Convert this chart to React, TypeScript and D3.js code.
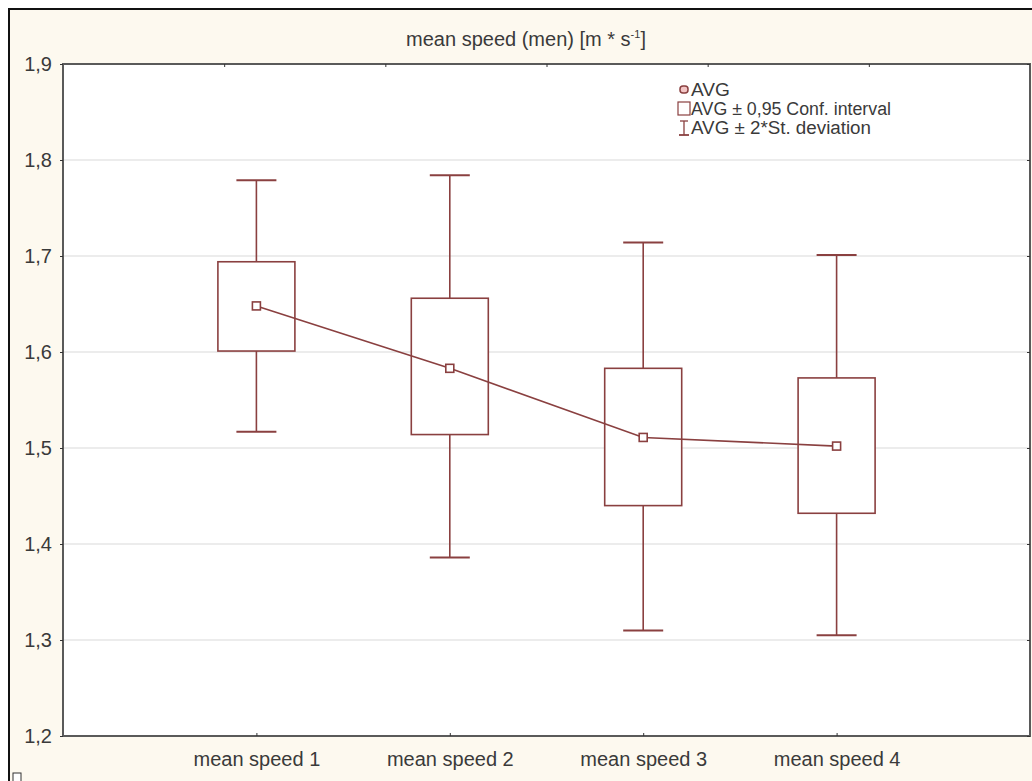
import React, { useEffect, useRef } from "react";
import * as d3 from "d3";

const categories = ["mean speed 1", "mean speed 2", "mean speed 3", "mean speed 4"];
const avg = [1.648, 1.583, 1.511, 1.502];
const ciLow = [1.601, 1.514, 1.44, 1.432];
const ciHigh = [1.694, 1.656, 1.583, 1.573];
const sdLow = [1.517, 1.386, 1.31, 1.305];
const sdHigh = [1.779, 1.784, 1.714, 1.701];
const yTicks = [1.2, 1.3, 1.4, 1.5, 1.6, 1.7, 1.8, 1.9];
const legendItems = ["AVG", "AVG \u00b1 0,95 Conf. interval", "AVG \u00b1 2*St. deviation"];

const W = 1032;
const H = 781;
const RED = "#8a4040";
const FONT = "'Liberation Sans', Arial, sans-serif";

export default function App() {
  const ref = useRef<SVGSVGElement>(null);

  useEffect(() => {
    const svg = d3.select(ref.current);
    svg.selectAll("*").remove();

    const margin = { top: 64, right: 2, bottom: 45, left: 63 };
    const x0 = margin.left, x1 = W - margin.right;
    const y0 = margin.top, y1 = H - margin.bottom;

    const x = d3.scaleLinear().domain([0, categories.length + 1]).range([x0, x1]);
    const y = d3.scaleLinear().domain([1.2, 1.9]).range([y1, y0]);

    // outer frame
    svg.append("rect").attr("x", 0).attr("y", 0).attr("width", W).attr("height", H).attr("fill", "#ffffff");
    svg.append("rect").attr("x", 9).attr("y", 9).attr("width", W + 10).attr("height", H + 10)
      .attr("fill", "#fdf9ef").attr("stroke", "#111").attr("stroke-width", 2);

    // plot area
    svg.append("rect").attr("x", x0).attr("y", y0).attr("width", x1 - x0).attr("height", y1 - y0)
      .attr("fill", "#ffffff");

    // grid
    svg.append("g").selectAll("line")
      .data(yTicks.slice(1, -1))
      .join("line")
      .attr("x1", x0).attr("x2", x1)
      .attr("y1", d => y(d)).attr("y2", d => y(d))
      .attr("stroke", "#d9d9d9").attr("stroke-width", 1);

    svg.append("rect").attr("x", x0).attr("y", y0).attr("width", x1 - x0).attr("height", y1 - y0)
      .attr("fill", "none").attr("stroke", "#5a5a5a").attr("stroke-width", 2);

    // axes
    const left = svg.append("g").attr("transform", `translate(${x0},0)`)
      .call(d3.axisLeft(y).tickValues(yTicks).tickSize(3).tickFormat(d => d3.format(".1f")(d as number).replace(".", ",")));
    left.select(".domain").remove();
    left.selectAll("line").attr("stroke", "#333");
    left.selectAll("text").attr("font-size", 20).attr("font-family", FONT).attr("fill", "#3a3a3a").attr("x", -11);

    const right = svg.append("g").attr("transform", `translate(${x1},0)`)
      .call(d3.axisRight(y).tickValues(yTicks).tickSize(-3).tickFormat(() => ""));
    right.select(".domain").remove();
    right.selectAll("line").attr("stroke", "#333");

    const bottom = svg.append("g").attr("transform", `translate(0,${y1})`)
      .call(d3.axisBottom(x).tickValues(d3.range(1, categories.length + 1)).tickSize(-3)
        .tickFormat(d => categories[(d as number) - 1]));
    bottom.select(".domain").remove();
    bottom.selectAll("line").attr("stroke", "#333");
    bottom.selectAll("text").attr("font-size", 20).attr("font-family", FONT).attr("fill", "#3a3a3a").attr("y", 16);

    const xTop = d3.scaleLinear().domain([0, 6]).range([x0, x1]);
    const top = svg.append("g").attr("transform", `translate(0,${y0})`)
      .call(d3.axisTop(xTop).tickValues([1, 2, 3, 4, 5]).tickSize(-3).tickFormat(() => ""));
    top.select(".domain").remove();
    top.selectAll("line").attr("stroke", "#333");

    // title
    const title = svg.append("text").attr("x", 526).attr("y", 46)
      .attr("text-anchor", "middle").attr("font-family", FONT).attr("font-size", 20).attr("fill", "#3a3a3a");
    title.append("tspan").text("mean speed (men) [m * s");
    title.append("tspan").attr("font-size", 11).attr("dy", -8).text("-1");
    title.append("tspan").attr("dy", 8).text("]");

    const g = svg.append("g");
    const capW = 40, boxW = 77;

    categories.forEach((c, i) => {
      const cx = x(i + 1);
      g.append("line").attr("x1", cx).attr("x2", cx).attr("y1", y(sdHigh[i])).attr("y2", y(sdLow[i]))
        .attr("stroke", RED).attr("stroke-width", 1.6);
      [sdHigh[i], sdLow[i]].forEach(v => {
        g.append("line").attr("x1", cx - capW / 2).attr("x2", cx + capW / 2).attr("y1", y(v)).attr("y2", y(v))
          .attr("stroke", RED).attr("stroke-width", 2);
      });
      g.append("rect").attr("x", cx - boxW / 2).attr("y", y(ciHigh[i])).attr("width", boxW)
        .attr("height", y(ciLow[i]) - y(ciHigh[i]))
        .attr("fill", "#ffffff").attr("stroke", RED).attr("stroke-width", 1.6);
    });

    const line = d3.line<number>().x((d, i) => x(i + 1)).y(d => y(d));
    g.append("path").attr("d", line(avg)).attr("fill", "none").attr("stroke", RED).attr("stroke-width", 1.6);

    g.selectAll("rect.avg").data(avg).join("rect").attr("class", "avg")
      .attr("x", (d, i) => x(i + 1) - 4).attr("y", d => y(d) - 4).attr("width", 8).attr("height", 8)
      .attr("fill", "#ffffff").attr("stroke", RED).attr("stroke-width", 1.6);

    // legend
    const lg = svg.append("g").attr("transform", "translate(678,0)");
    const ly = [89, 108, 127];
    lg.append("rect").attr("x", 2).attr("y", ly[0] - 3).attr("width", 8).attr("height", 7).attr("rx", 3)
      .attr("fill", "#f3c6c6").attr("stroke", RED).attr("stroke-width", 1.5);
    lg.append("rect").attr("x", 0).attr("y", ly[1] - 6).attr("width", 12).attr("height", 13)
      .attr("fill", "#ffffff").attr("stroke", RED).attr("stroke-width", 1.2);
    lg.append("line").attr("x1", 6).attr("x2", 6).attr("y1", ly[2] - 6).attr("y2", ly[2] + 8).attr("stroke", RED).attr("stroke-width", 1.3);
    lg.append("line").attr("x1", 2).attr("x2", 10).attr("y1", ly[2] - 6).attr("y2", ly[2] - 6).attr("stroke", RED).attr("stroke-width", 1.3);
    lg.append("line").attr("x1", 1).attr("x2", 11).attr("y1", ly[2] + 8).attr("y2", ly[2] + 8).attr("stroke", RED).attr("stroke-width", 1.8);
    lg.selectAll("text").data(legendItems).join("text")
      .attr("x", 13).attr("y", (d, i) => ly[i] + 7)
      .attr("font-family", FONT).attr("font-size", 18).attr("fill", "#3a3a3a")
      .attr("textLength", (d, i) => [39, 200, 180][i]).attr("lengthAdjust", "spacingAndGlyphs")
      .text(d => d);

    // small marker at bottom-left
    svg.append("rect").attr("x", 13).attr("y", 773).attr("width", 8).attr("height", 10)
      .attr("fill", "#ffffff").attr("stroke", "#333").attr("stroke-width", 1);
  }, []);

  return (
    <svg ref={ref} width={W} height={H} style={{ position: "absolute", left: 0, top: 0, display: "block" }} />
  );
}
